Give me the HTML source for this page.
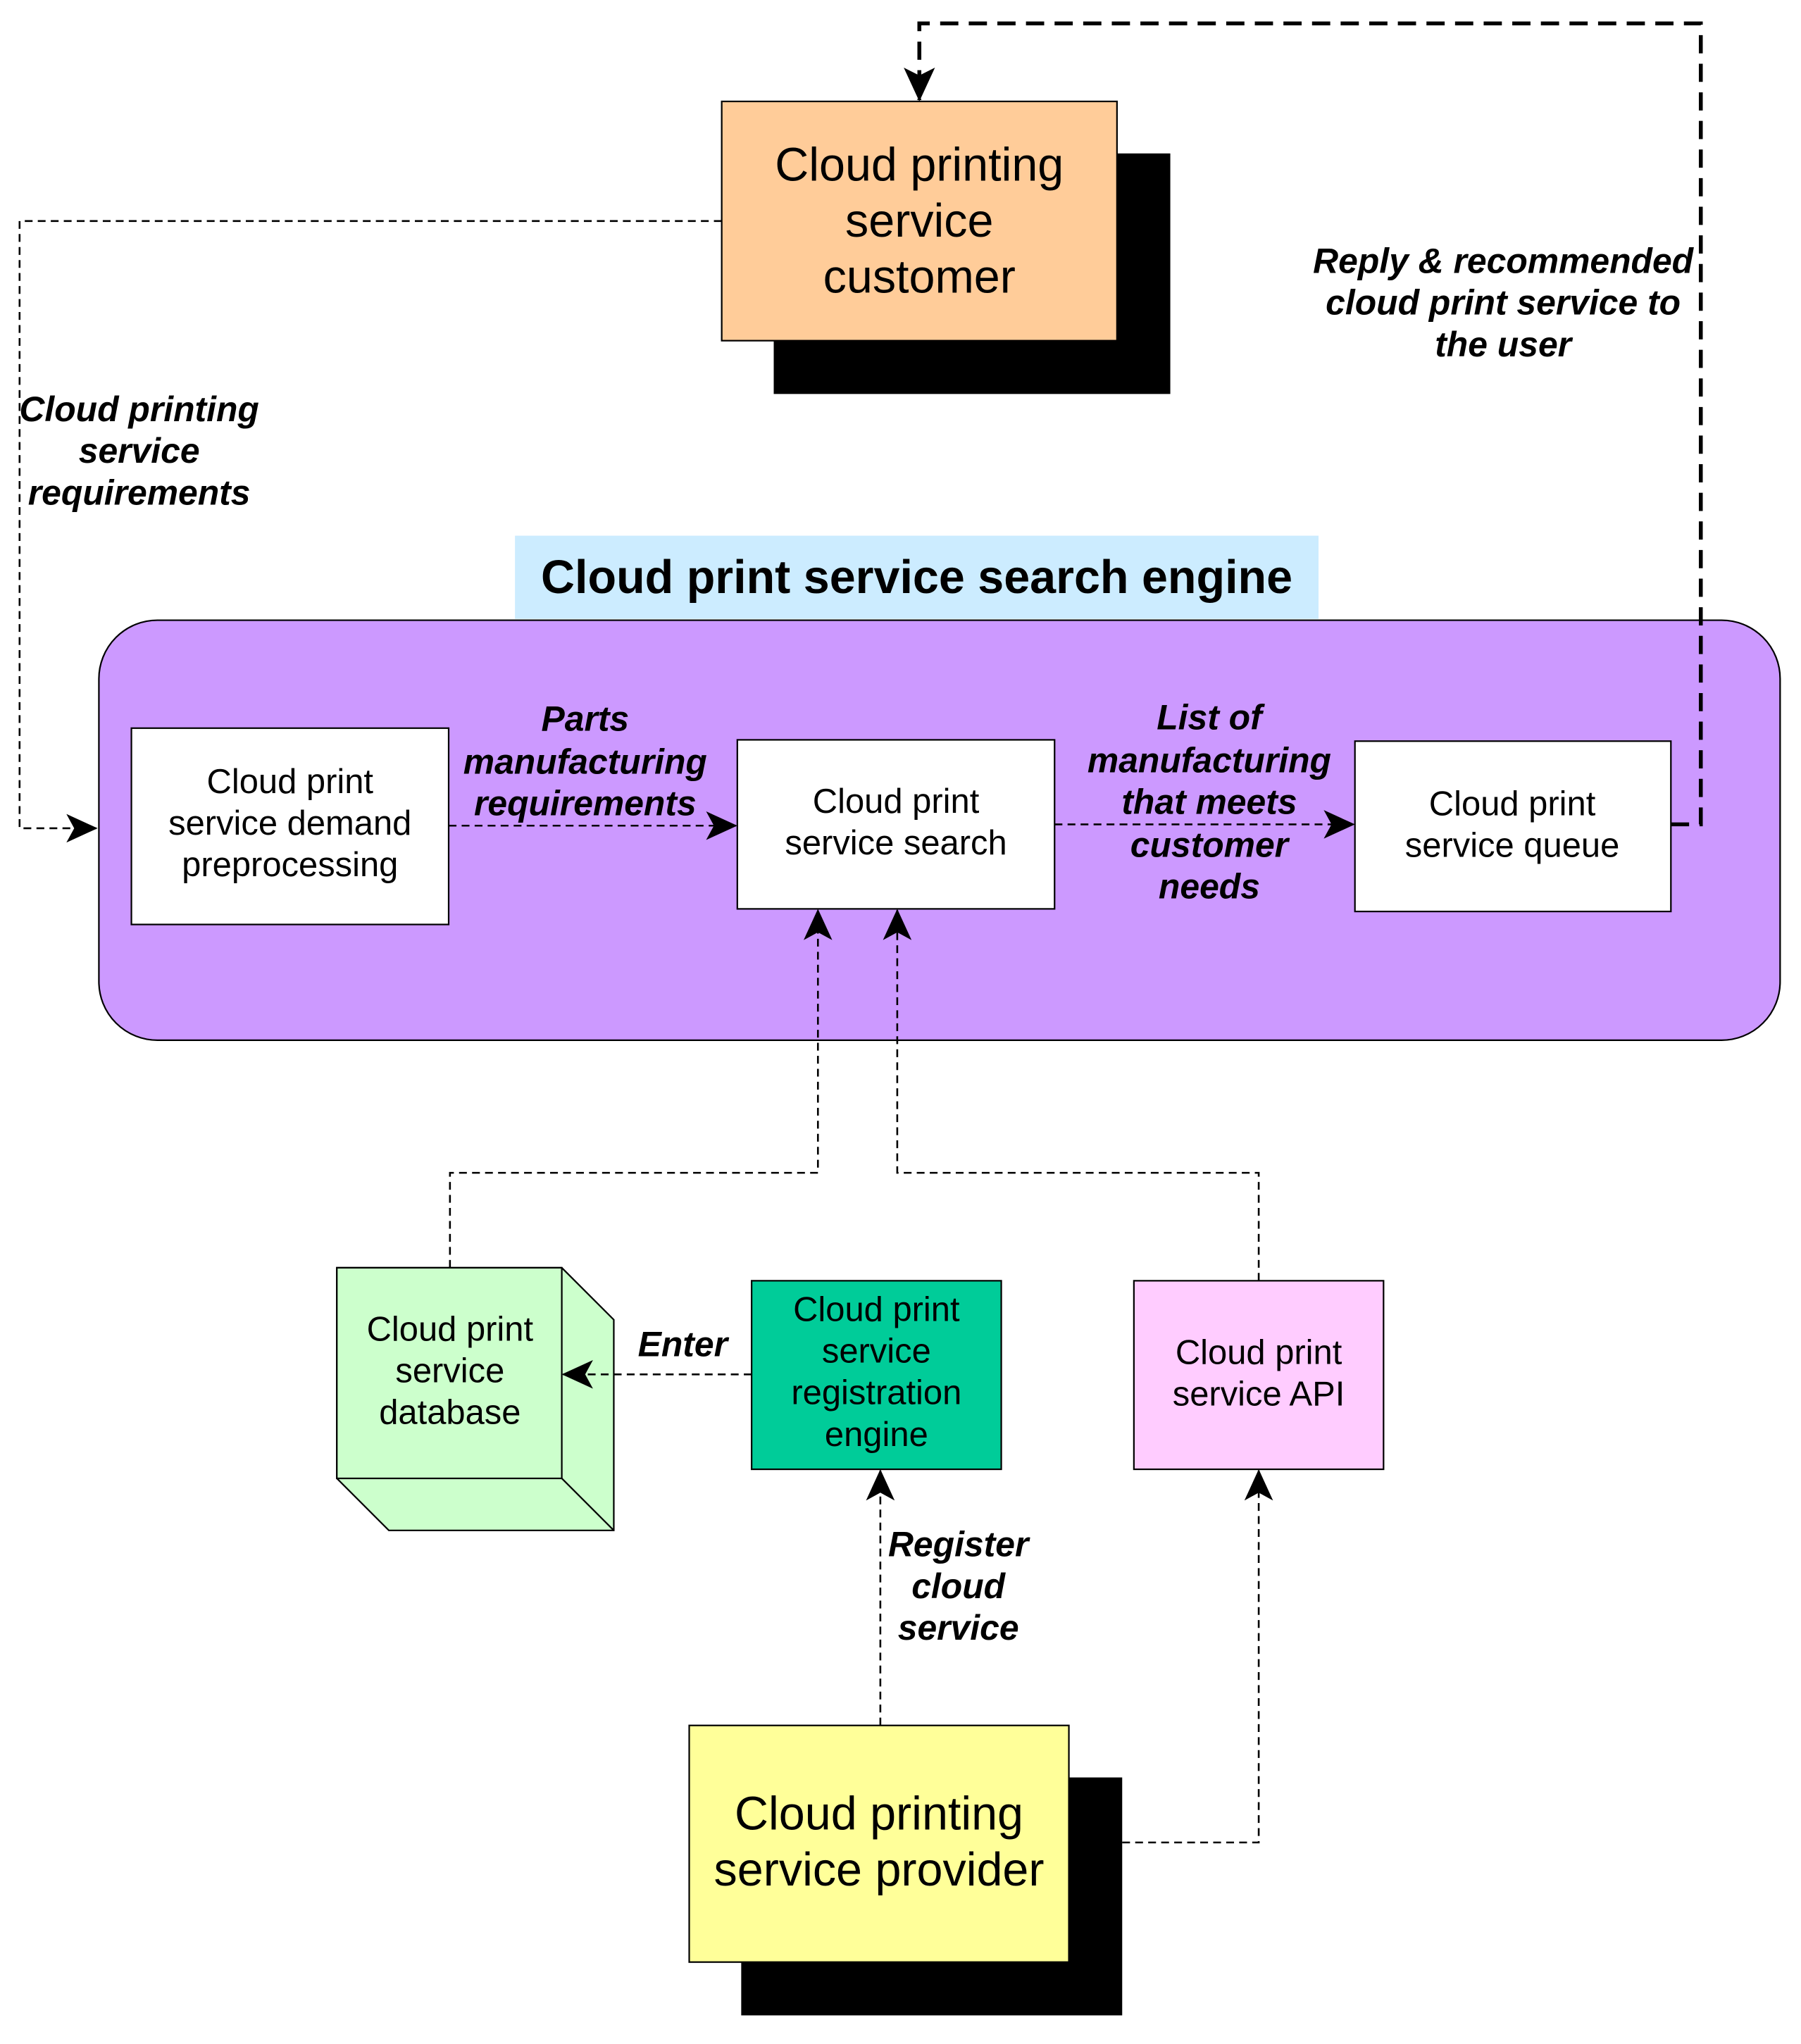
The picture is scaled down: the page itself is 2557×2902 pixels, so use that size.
<!DOCTYPE html>
<html><head><meta charset="utf-8"><style>
html,body{margin:0;padding:0;background:#fff;}
svg{display:block;}
text{font-family:"Liberation Sans",Arial,sans-serif;fill:#000;}
.n{font-size:26.5px;}
.b{font-size:36px;}
.l{font-size:27px;font-weight:bold;font-style:italic;}
.d{fill:none;stroke:#000;stroke-width:1.4;stroke-dasharray:6,4;}
</style></head><body>
<svg width="2557" height="2902" viewBox="0 0 1385 1572" xmlns="http://www.w3.org/2000/svg">
<defs>
<marker id="a" markerWidth="24" markerHeight="22" refX="23" refY="11" orient="auto" markerUnits="userSpaceOnUse">
<path d="M0,0 L24,11 L0,22 L6,11 Z" fill="#000"/></marker>
<marker id="a2" markerWidth="26" markerHeight="24" refX="25" refY="12" orient="auto" markerUnits="userSpaceOnUse">
<path d="M0,0 L26,12 L0,24 L6,12 Z" fill="#000"/></marker>
</defs>
<rect width="1385" height="1572" fill="#fff"/>
<rect x="595" y="118" width="305" height="185" fill="#000"/>
<rect x="555" y="78" width="304" height="184" fill="#FFCC99" stroke="#000" stroke-width="1.2"/>
<text class="b" text-anchor="middle" x="707" y="139">Cloud printing</text>
<text class="b" text-anchor="middle" x="707" y="182">service</text>
<text class="b" text-anchor="middle" x="707" y="225">customer</text>
<polyline class="d" points="555,170 15,170 15,637 74,637" marker-end="url(#a)"/>
<text class="l" text-anchor="middle" x="107" y="324">Cloud printing</text>
<text class="l" text-anchor="middle" x="107" y="356">service</text>
<text class="l" text-anchor="middle" x="107" y="388">requirements</text>
<rect x="396" y="412" width="618" height="64" fill="#CCECFF"/>
<text text-anchor="middle" x="705" y="456" style="font-size:36px;font-weight:bold">Cloud print service search engine</text>
<rect x="76" y="477" width="1293" height="323" rx="45" fill="#CC99FF" stroke="#000" stroke-width="1.2"/>
<rect x="101" y="560" width="244" height="151" fill="#fff" stroke="#000" stroke-width="1.2"/>
<text class="n" text-anchor="middle" x="223" y="610">Cloud print</text>
<text class="n" text-anchor="middle" x="223" y="642">service demand</text>
<text class="n" text-anchor="middle" x="223" y="674">preprocessing</text>
<rect x="567" y="569" width="244" height="130" fill="#fff" stroke="#000" stroke-width="1.2"/>
<text class="n" text-anchor="middle" x="689" y="625">Cloud print</text>
<text class="n" text-anchor="middle" x="689" y="657">service search</text>
<rect x="1042" y="570" width="243" height="131" fill="#fff" stroke="#000" stroke-width="1.2"/>
<text class="n" text-anchor="middle" x="1163" y="627">Cloud print</text>
<text class="n" text-anchor="middle" x="1163" y="659">service queue</text>
<line class="d" x1="345" y1="635" x2="566" y2="635" marker-end="url(#a)"/>
<text class="l" text-anchor="middle" x="450" y="562">Parts</text>
<text class="l" text-anchor="middle" x="450" y="595">manufacturing</text>
<text class="l" text-anchor="middle" x="450" y="627">requirements</text>
<line class="d" x1="811" y1="634" x2="1041" y2="634" marker-end="url(#a)"/>
<text class="l" text-anchor="middle" x="930" y="561">List of</text>
<text class="l" text-anchor="middle" x="930" y="594">manufacturing</text>
<text class="l" text-anchor="middle" x="930" y="626">that meets</text>
<text class="l" text-anchor="middle" x="930" y="659">customer</text>
<text class="l" text-anchor="middle" x="930" y="691">needs</text>
<polyline points="1285,634 1308,634 1308,18 707,18 707,77" fill="none" stroke="#000" stroke-width="3" stroke-dasharray="14,8" marker-end="url(#a2)"/>
<text class="l" text-anchor="middle" x="1156" y="210">Reply &amp; recommended</text>
<text class="l" text-anchor="middle" x="1156" y="242">cloud print  service to</text>
<text class="l" text-anchor="middle" x="1156" y="274">the user</text>
<polyline class="d" points="346,975 346,902 629,902 629,700" marker-end="url(#a)"/>
<polyline class="d" points="968,985 968,902 690,902 690,700" marker-end="url(#a)"/>
<path d="M259,975 L432,975 L472,1015 L472,1177 L299,1177 L259,1137 Z" fill="#CCFFCC" stroke="#000" stroke-width="1.2"/>
<rect x="259" y="975" width="173" height="162" fill="#CCFFCC" stroke="#000" stroke-width="1.2"/>
<line x1="432" y1="1137" x2="472" y2="1177" stroke="#000" stroke-width="1.2"/>
<text class="n" text-anchor="middle" x="346" y="1031">Cloud print</text>
<text class="n" text-anchor="middle" x="346" y="1063">service</text>
<text class="n" text-anchor="middle" x="346" y="1095">database</text>
<rect x="578" y="985" width="192" height="145" fill="#00CC99" stroke="#000" stroke-width="1.2"/>
<text class="n" text-anchor="middle" x="674" y="1016">Cloud print</text>
<text class="n" text-anchor="middle" x="674" y="1048">service</text>
<text class="n" text-anchor="middle" x="674" y="1080">registration</text>
<text class="n" text-anchor="middle" x="674" y="1112">engine</text>
<rect x="872" y="985" width="192" height="145" fill="#FFCCFF" stroke="#000" stroke-width="1.2"/>
<text class="n" text-anchor="middle" x="968" y="1049">Cloud print</text>
<text class="n" text-anchor="middle" x="968" y="1081">service API</text>
<line class="d" x1="578" y1="1057" x2="433" y2="1057" marker-end="url(#a)"/>
<text class="l" text-anchor="middle" x="525" y="1043">Enter</text>
<rect x="570" y="1367" width="293" height="183" fill="#000"/>
<rect x="530" y="1327" width="292" height="182" fill="#FFFF99" stroke="#000" stroke-width="1.2"/>
<text class="b" text-anchor="middle" x="676" y="1407">Cloud printing</text>
<text class="b" text-anchor="middle" x="676" y="1450">service provider</text>
<line class="d" x1="677" y1="1327" x2="677" y2="1131" marker-end="url(#a)"/>
<text class="l" text-anchor="middle" x="737" y="1197">Register</text>
<text class="l" text-anchor="middle" x="737" y="1229">cloud</text>
<text class="l" text-anchor="middle" x="737" y="1261">service</text>
<polyline class="d" points="863,1417 968,1417 968,1131" marker-end="url(#a)"/>
</svg>
</body></html>
